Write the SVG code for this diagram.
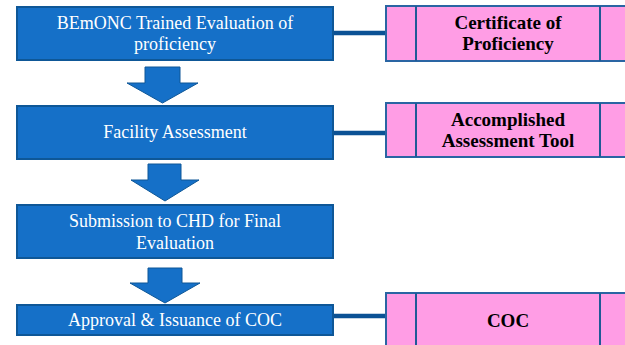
<svg xmlns="http://www.w3.org/2000/svg" width="625" height="345" viewBox="0 0 625 345">
<style>
.step{fill:#1570C8;stroke:#0E5797;stroke-width:2}
.arrow{fill:#1570C8;stroke:#0E5797;stroke-width:1}
.out{fill:#FF9DE5;stroke:#2A65A3;stroke-width:2}
.div{stroke:#1F5A96;stroke-width:2}
.conn{stroke:#0B5295;stroke-width:4.5}
.wt{font-family:"Liberation Serif","Times New Roman",serif;font-size:18px;fill:#FFFFFF;text-anchor:middle}
.bt{font-family:"Liberation Serif","Times New Roman",serif;font-size:19px;font-weight:bold;fill:#000000;text-anchor:middle}
</style>
<rect width="625" height="345" fill="#FFFFFF"/>
<g id="connectors">
<line class="conn" x1="333" y1="33" x2="386" y2="33"/>
<line class="conn" x1="333" y1="133" x2="386" y2="133"/>
<line class="conn" x1="333" y1="316" x2="386" y2="316"/>
<polygon class="arrow" points="145,67 180,67 180,83 198,83 162.5,103 127,83 145,83"/>
<polygon class="arrow" points="148,164 181,164 181,180 199,180 165,201 131,180 148,180"/>
<polygon class="arrow" points="148,268 182,268 182,283 200,283 165,303 130,283 148,283"/>
</g>
<g id="step1">
<rect class="step" x="17" y="7" width="316" height="53"/>
<text class="wt" x="175" y="29">BEmONC Trained Evaluation of</text>
<text class="wt" x="175" y="50">proficiency</text>
</g>
<g id="step2">
<rect class="step" x="17" y="106" width="316" height="53"/>
<text class="wt" x="175" y="138">Facility Assessment</text>
</g>
<g id="step3">
<rect class="step" x="17" y="205" width="316" height="53"/>
<text class="wt" x="175" y="227">Submission to CHD for Final</text>
<text class="wt" x="175" y="249">Evaluation</text>
</g>
<g id="step4">
<rect class="step" x="17" y="305" width="316" height="30"/>
<text class="wt" x="175" y="326">Approval &amp; Issuance of COC</text>
</g>
<g id="out1">
<rect class="out" x="386" y="6" width="250" height="55"/>
<line class="div" x1="416" y1="6" x2="416" y2="61"/>
<line class="div" x1="600" y1="6" x2="600" y2="61"/>
<text class="bt" x="508" y="29">Certificate of</text>
<text class="bt" x="508" y="50">Proficiency</text>
</g>
<g id="out2">
<rect class="out" x="386" y="103" width="250" height="54"/>
<line class="div" x1="416" y1="103" x2="416" y2="157"/>
<line class="div" x1="600" y1="103" x2="600" y2="157"/>
<text class="bt" x="508" y="126">Accomplished</text>
<text class="bt" x="508" y="147">Assessment Tool</text>
</g>
<g id="out3">
<rect class="out" x="386" y="293" width="250" height="60"/>
<line class="div" x1="416" y1="293" x2="416" y2="345"/>
<line class="div" x1="600" y1="293" x2="600" y2="345"/>
<text class="bt" x="508" y="327">COC</text>
</g>
</svg>
